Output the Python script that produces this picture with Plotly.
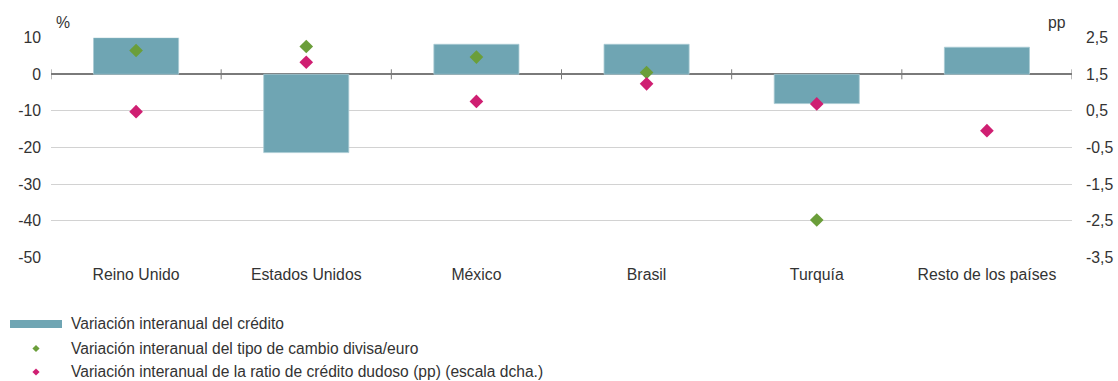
import plotly.graph_objects as go

# Data
countries = ["Reino Unido", "Estados Unidos", "México", "Brasil", "Turquía", "Resto de los países"]
credit_growth = [10.0, -21.4, 8.2, 8.2, -8.0, 7.4]          # %, left axis
fx_change = [6.5, 7.6, 4.7, 0.5, -39.8, None]               # %, left axis
npl_ratio_change = [0.48, 1.83, 0.76, 1.24, 0.69, -0.04]    # pp, right axis
left_ticks = [10, 0, -10, -20, -30, -40, -50]
right_ticks = [2.5, 1.5, 0.5, -0.5, -1.5, -2.5, -3.5]
legend_labels = [
    "Variación interanual del crédito",
    "Variación interanual del tipo de cambio divisa/euro",
    "Variación interanual de la ratio de crédito dudoso (pp) (escala dcha.)",
]

# Colours and layout
BAR = "#6FA5B3"
GREEN = "#6B9E3A"
PINK = "#CF1F72"
GRID = "#D2D2D2"
AXIS = "#7A7A7A"
TEXT = "#333333"
FONT = "Liberation Sans, Arial, sans-serif"
FS = 15.8
LEG_FS = 15.6

W, H = 1118, 381
PX0, PX1 = 51, 1072          # plot area, pixels
PY_TOP, PY_BOT = 37.7, 257.3


def px(x):
    return x / W


def py(y):
    return 1 - y / H


def fmt(v, decimals):
    # hyphen minus and decimal comma
    return f"{v:.{decimals}f}".replace(".", ",")


fig = go.Figure()

fig.add_trace(go.Bar(
    x=countries, y=credit_growth, name=legend_labels[0],
    marker=dict(color=BAR, line=dict(color="#A8CAD3", width=0.8)),
    width=0.5, yaxis="y", showlegend=False,
))
fig.add_trace(go.Scatter(
    x=countries, y=fx_change, name=legend_labels[1], mode="markers",
    marker=dict(symbol="diamond", size=10.5, color=GREEN),
    yaxis="y", showlegend=False,
))
fig.add_trace(go.Scatter(
    x=countries, y=npl_ratio_change, name=legend_labels[2], mode="markers",
    marker=dict(symbol="diamond", size=10.5, color=PINK),
    yaxis="y2", showlegend=False,
))

shapes = []
# category separators crossing the zero line
for i in range(len(countries) + 1):
    shapes.append(dict(
        type="line", xref="x", yref="y", x0=i - 0.5, x1=i - 0.5,
        xsizemode="scaled", ysizemode="pixel", yanchor=0, y0=-5, y1=5,
        line=dict(color=AXIS, width=1),
    ))

# legend
leg_y = [323.5, 348, 371.5]
shapes.append(dict(
    type="rect", xref="paper", yref="paper",
    x0=px(10), x1=px(62), y0=py(320), y1=py(328),
    fillcolor=BAR, line=dict(width=0),
))
for yy, col in zip(leg_y[1:], [GREEN, PINK]):
    shapes.append(dict(
        type="path", xref="paper", yref="paper",
        xsizemode="pixel", ysizemode="pixel", xanchor=px(36), yanchor=py(yy + 0.5),
        path="M0,-3.6 L3.6,0 L0,3.6 L-3.6,0 Z",
        fillcolor=col, line=dict(width=0),
    ))

annotations = []
for yy, lab in zip(leg_y, legend_labels):
    annotations.append(dict(
        text=lab, xref="paper", yref="paper", x=px(69), y=py(yy),
        xanchor="left", yanchor="middle", showarrow=False,
        font=dict(family=FONT, size=LEG_FS, color=TEXT),
    ))
annotations.append(dict(
    text="%", xref="paper", yref="paper", x=px(54), y=py(22.5),
    xanchor="left", yanchor="middle", showarrow=False,
    font=dict(family=FONT, size=FS, color=TEXT),
))
annotations.append(dict(
    text="pp", xref="paper", yref="paper", x=px(1068), y=py(22.5),
    xanchor="right", yanchor="middle", showarrow=False,
    font=dict(family=FONT, size=FS, color=TEXT),
))

fig.update_layout(
    width=W, height=H,
    margin=dict(l=0, r=0, t=0, b=0),
    paper_bgcolor="white", plot_bgcolor="white",
    font=dict(family=FONT, size=FS, color=TEXT),
    xaxis=dict(
        domain=[px(PX0), px(PX1)], type="category",
        range=[-0.5, len(countries) - 0.5],
        showgrid=False, showline=False, zeroline=False, ticks="",
        ticklabelstandoff=6, automargin=False,
        tickfont=dict(family=FONT, size=FS, color=TEXT),
    ),
    yaxis=dict(
        domain=[py(PY_BOT), py(PY_TOP)],
        range=[-50, 10], tickvals=left_ticks,
        ticktext=[fmt(v, 0) for v in left_ticks],
        showgrid=True, gridcolor=GRID, gridwidth=1,
        zeroline=True, zerolinecolor=AXIS, zerolinewidth=2.2,
        showline=False, ticks="", ticklabelstandoff=9, automargin=False,
        tickfont=dict(family=FONT, size=FS, color=TEXT),
    ),
    yaxis2=dict(
        overlaying="y", side="right", anchor="x",
        range=[-3.5, 2.5], tickvals=right_ticks,
        ticktext=[fmt(v, 1) for v in right_ticks],
        showgrid=False, zeroline=False, showline=False, ticks="",
        ticklabelstandoff=13, automargin=False,
        tickfont=dict(family=FONT, size=FS, color=TEXT),
    ),
    shapes=shapes,
    annotations=annotations,
    showlegend=False,
)

fig.write_html("out.html")
